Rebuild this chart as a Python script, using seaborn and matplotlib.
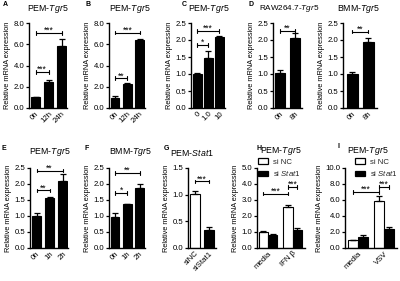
import numpy as np
import pandas as pd
import matplotlib
matplotlib.use("Agg")
import matplotlib.pyplot as plt
from matplotlib.patches import Patch
from matplotlib.ticker import FormatStrFormatter
import seaborn as sns

sns.set_theme(style="ticks")
plt.rcParams['font.family'] = ['Liberation Sans', 'DejaVu Sans']
plt.rcParams['mathtext.fontset'] = 'custom'
plt.rcParams['mathtext.rm'] = 'Liberation Sans'
plt.rcParams['mathtext.it'] = 'Liberation Sans:italic'

# ---------------- data ----------------
a_cats = ["0h", "12h", "24h"]
a_vals = [1.0, 2.42, 5.85]
a_err = [0.05, 0.18, 0.6]
a_sig = [(0, 1, 3.4, "***"), (0, 2, 7.05, "***")]

b_cats = ["0h", "12h", "24h"]
b_vals = [0.98, 2.25, 6.4]
b_err = [0.17, 0.1, 0.08]
b_sig = [(0, 1, 2.8, "**"), (0, 2, 7.1, "***")]

c_cats = ["0", "1.0", "10"]
c_vals = [1.0, 1.47, 2.08]
c_err = [0.03, 0.2, 0.03]
c_sig = [(0, 1, 1.85, "*"), (0, 2, 2.27, "***")]

d1_cats = ["0h", "8h"]
d1_vals = [1.02, 2.05]
d1_err = [0.1, 0.15]
d1_sig = [(0, 1, 2.27, "**")]

d2_cats = ["0h", "8h"]
d2_vals = [1.0, 1.93]
d2_err = [0.07, 0.12]
d2_sig = [(0, 1, 2.25, "**")]

e_cats = ["0h", "1h", "2h"]
e_vals = [1.0, 1.55, 2.1]
e_err = [0.08, 0.05, 0.2]
e_sig = [(0, 1, 1.8, "**"), (0, 2, 2.42, "**")]

f_cats = ["0h", "1h", "2h"]
f_vals = [0.98, 1.37, 1.86]
f_err = [0.12, 0.02, 0.14]
f_sig = [(0, 1, 1.72, "*"), (0, 2, 2.34, "**")]

g_cats = ["siNC", "siStat1"]
g_vals = [1.01, 0.34]
g_err = [0.06, 0.05]
g_sig = [(0, 1, 1.25, "***")]

grp_levels = ["si NC", "si Stat1"]

h_cats = ["media", "IFN β"]
h_nc = [1.02, 2.55]
h_nc_err = [0.05, 0.15]
h_st = [0.8, 1.12]
h_st_err = [0.1, 0.1]
h_sig = [(0, 2, 3.4, "***"), (2, 3, 3.8, "***")]

i_cats = ["media", "VSV"]
i_nc = [1.0, 5.85]
i_nc_err = [0.05, 0.65]
i_st = [1.4, 2.4]
i_st_err = [0.18, 0.22]
i_sig = [(0, 2, 7.0, "***"), (2, 3, 7.6, "***")]

# ---------------- figure ----------------
W, H = 400, 281
fig = plt.figure(figsize=(W / 100, H / 100), dpi=100)


def rect(x0, x1, ytop, ybot):
    return [x0 / W, 1 - ybot / H, (x1 - x0) / W, (ybot - ytop) / H]


TICK_FS = 5.6
LAB_FS = 5.3


def style_axis(ax, ylim, ystep, xlim):
    ax.set_ylim(*ylim)
    ax.set_yticks(np.arange(ylim[0], ylim[1] + 1e-9, ystep))
    ax.yaxis.set_major_formatter(FormatStrFormatter('%.1f'))
    ax.set_xlim(*xlim)
    sns.despine(ax=ax)
    for s in ("left", "bottom"):
        ax.spines[s].set_linewidth(1.0)
        ax.spines[s].set_color("black")
    ax.tick_params(axis="y", length=2.5, width=0.9, pad=1, labelsize=TICK_FS, colors="black")
    ax.tick_params(axis="x", length=0, pad=1.5, labelsize=TICK_FS, colors="black")
    for lab in ax.get_xticklabels():
        lab.set_rotation(45)
        lab.set_ha("right")
        lab.set_rotation_mode("anchor")
    ax.set_xlabel("")
    ax.set_ylabel("Relative mRNA expression", fontsize=LAB_FS, labelpad=1.5, color="black")


def draw_err_and_sig(ax, errs_sorted, sig, ymax):
    bars = sorted(ax.patches, key=lambda p: p.get_x())
    xs = [p.get_x() + p.get_width() / 2 for p in bars]
    hs = [p.get_height() for p in bars]
    ax.errorbar(xs, hs, yerr=[np.zeros(len(hs)), errs_sorted], fmt="none",
                ecolor="black", elinewidth=0.9, capsize=2, capthick=0.9, zorder=5)
    tick = ymax * 0.022
    for i, j, y, lab in sig:
        ax.plot([xs[i], xs[j]], [y, y], color="black", lw=0.8, clip_on=False, zorder=6)
        ax.plot([xs[i], xs[i]], [y - tick, y + tick], color="black", lw=0.8, clip_on=False, zorder=6)
        ax.plot([xs[j], xs[j]], [y - tick, y + tick], color="black", lw=0.8, clip_on=False, zorder=6)
        ax.text((xs[i] + xs[j]) / 2, y - ymax * 0.025, lab, ha="center", va="bottom",
                fontsize=6.2, color="black", zorder=6)


def simple_panel(r, cats, vals, errs, sig, ylim, ystep, xlim, width, colors=None):
    ax = fig.add_axes(r)
    df = pd.DataFrame({"cat": cats, "val": vals})
    if colors is None:
        colors = ["black"] * len(cats)
    sns.barplot(data=df, x="cat", y="val", hue="cat", palette=colors, legend=False,
                width=width, edgecolor="black", linewidth=0.8, errorbar=None,
                saturation=1, ax=ax)
    style_axis(ax, ylim, ystep, xlim)
    draw_err_and_sig(ax, errs, sig, ylim[1])
    return ax


def grouped_panel(r, cats, nc, nc_err, st, st_err, sig, ylim, ystep, xlim, width, leg_anchor):
    ax = fig.add_axes(r)
    df = pd.DataFrame({
        "cat": cats + cats,
        "grp": [grp_levels[0]] * len(cats) + [grp_levels[1]] * len(cats),
        "val": nc + st,
    })
    sns.barplot(data=df, x="cat", y="val", hue="grp", hue_order=grp_levels,
                palette={grp_levels[0]: "white", grp_levels[1]: "black"}, legend=False,
                width=width, edgecolor="black", linewidth=0.8, errorbar=None,
                saturation=1, ax=ax)
    style_axis(ax, ylim, ystep, xlim)
    errs_sorted = []
    for k in range(len(cats)):
        errs_sorted += [nc_err[k], st_err[k]]
    draw_err_and_sig(ax, errs_sorted, sig, ylim[1])
    handles = [Patch(facecolor="white", edgecolor="black", linewidth=0.9),
               Patch(facecolor="black", edgecolor="black", linewidth=0.9)]
    ax.legend(handles, ["si NC", "si $\\mathit{Stat1}$"], loc="upper left",
              bbox_to_anchor=leg_anchor, frameon=False, fontsize=5.6,
              handlelength=1.25, handleheight=0.75, handletextpad=0.6,
              labelspacing=0.4, borderaxespad=0, borderpad=0)
    return ax


TOP = (23, 108)
BOT = (168, 248)

simple_panel(rect(29, 67, *TOP), a_cats, a_vals, a_err, a_sig, (0, 8), 2, (-0.5, 2.42), 0.7)
simple_panel(rect(109, 145, *TOP), b_cats, b_vals, b_err, b_sig, (0, 8), 2, (-0.5, 2.45), 0.72)
simple_panel(rect(191, 225, *TOP), c_cats, c_vals, c_err, c_sig, (0, 2.5), 0.5, (-0.55, 2.5), 0.8)
simple_panel(rect(273, 302, *TOP), d1_cats, d1_vals, d1_err, d1_sig, (0, 2.5), 0.5, (-0.47, 1.47), 0.67)
simple_panel(rect(343, 377, *TOP), d2_cats, d2_vals, d2_err, d2_sig, (0, 2.5), 0.5, (-0.6, 1.55), 0.7)

simple_panel(rect(30, 68, *BOT), e_cats, e_vals, e_err, e_sig, (0, 2.5), 0.5, (-0.5, 2.4), 0.72)
simple_panel(rect(109, 145, *BOT), f_cats, f_vals, f_err, f_sig, (0, 2.5), 0.5, (-0.5, 2.45), 0.72)
simple_panel(rect(188, 216, *BOT), g_cats, g_vals, g_err, g_sig, (0, 1.5), 0.5, (-0.5, 1.5), 0.72,
             colors=["white", "black"])
grouped_panel(rect(257, 305, *BOT), h_cats, h_nc, h_nc_err, h_st, h_st_err, h_sig,
              (0, 5), 1, (-0.45, 1.5), 0.75, (0.03, 1.12))
grouped_panel(rect(345, 397, *BOT), i_cats, i_nc, i_nc_err, i_st, i_st_err, i_sig,
              (0, 10), 2, (-0.5, 1.5), 0.75, (0.2, 1.12))

# titles
TFS = 6.3
titles = [
    (48, 9, "PEM-$\\mathit{Tgr5}$", TFS),
    (130, 9, "PEM-$\\mathit{Tgr5}$", TFS),
    (209, 9, "PEM-$\\mathit{Tgr5}$", TFS),
    (289, 9, "RAW264.7-$\\mathit{Tgr5}$", 5.9),
    (358, 9, "BMM-$\\mathit{Tgr5}$", TFS),
    (50, 152, "PEM-$\\mathit{Tgr5}$", TFS),
    (130, 152, "BMM-$\\mathit{Tgr5}$", TFS),
    (192, 152, "PEM-$\\mathit{Stat1}$", TFS),
    (281, 151, "PEM-$\\mathit{Tgr5}$", TFS),
    (368, 151, "PEM-$\\mathit{Tgr5}$", TFS),
]
for x, y, t, fs in titles:
    fig.text(x / W, 1 - y / H, t, ha="center", va="center", fontsize=fs, color="black")

letters = [(5, 5, "A"), (88, 5, "B"), (184, 5, "C"), (251, 5, "D"),
           (4, 149, "E"), (87, 148, "F"), (166, 148, "G"), (259, 148, "H"), (339, 147, "I")]
for x, y, t in letters:
    fig.text(x / W, 1 - y / H, t, ha="center", va="center", fontsize=5, fontweight="bold", color="black")

fig.savefig("out.png", dpi=100)
